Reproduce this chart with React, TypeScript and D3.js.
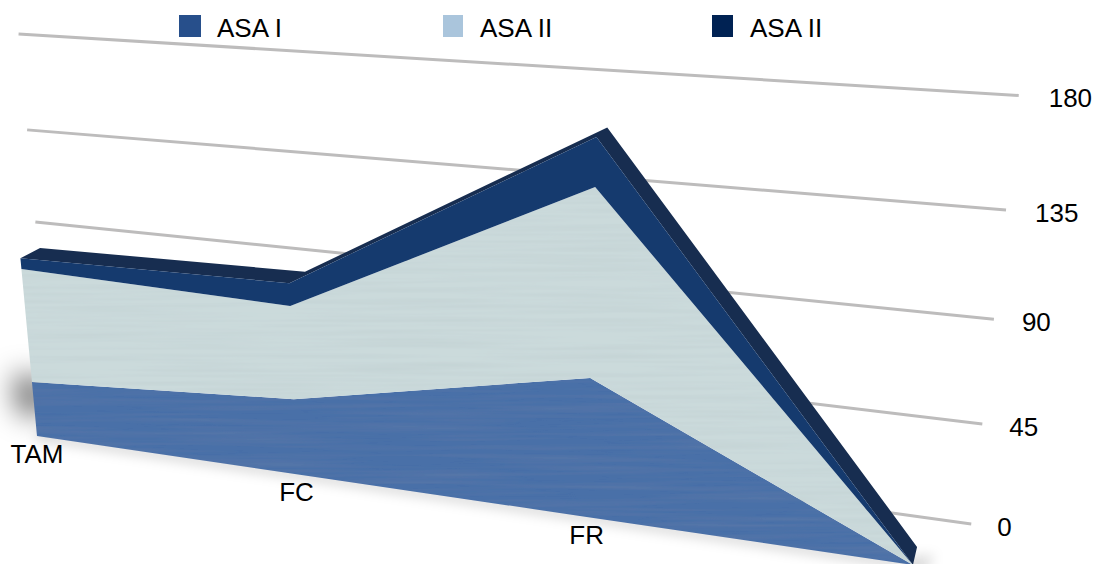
import * as d3 from 'd3';

const categories = ['TAM', 'FC', 'FR', ''];
const asaI = [27.7, 36.6, 63.7, 0];
const asaII = [55.9, 43.8, 81.6, 0];
const asaIII = [5.2, 10.5, 20.4, 0];
const valueTicks = [0, 45, 90, 135, 180];
const legendLabels = ['ASA I', 'ASA II', 'ASA II'];
const legendColors = ['#274f8b', '#aac5dc', '#002253'];
const faceColors = ['#4a6fa8', '#cbdadb', '#153a6e'];
const sideColor = '#172d50';

const font = '"Liberation Sans", Arial, sans-serif';

// camera: unit chart box (u along categories, v up, d into the page) -> screen pixels
function project(u: number, v: number, d = 0): [number, number] {
  const w = 1 - 0.158 * u - 0.075 * v + 0.0176 * d;
  return [
    (731.7 * u - 35.15 * v + 19.6 * d + 37) / w,
    (39.7 * u - 379.6 * v - 5.6 * d + 436) / w,
  ];
}

const uScale = d3.scalePoint<string>().domain(categories).range([0, 1]);
const vScale = d3.scaleLinear().domain([0, 180]).range([0, 1]);
// the back wall sits deeper, its ticks get their own range
const wallScale = d3.scaleLinear().domain([0, 180]).range([-0.034, 1]);
const wallDepth = 3.5;
const wallU: [number, number] = [-0.071, 1.047];

const rows = categories.map((c, i) => ({ c, a: asaI[i], b: asaII[i], e: asaIII[i] }));
const stacked = d3.stack<any>().keys(['a', 'b', 'e'])(rows);

const uOf = (d: any) => uScale(d.data.c) as number;

const faceArea = d3
  .area<any>()
  .x0((d) => project(uOf(d), vScale(d[0]))[0])
  .y0((d) => project(uOf(d), vScale(d[0]))[1])
  .x1((d) => project(uOf(d), vScale(d[1]))[0])
  .y1((d) => project(uOf(d), vScale(d[1]))[1]);

const sideArea = d3
  .area<any>()
  .x0((d) => project(uOf(d), vScale(d[1]), 0)[0])
  .y0((d) => project(uOf(d), vScale(d[1]), 0)[1])
  .x1((d) => project(uOf(d), vScale(d[1]), 1)[0])
  .y1((d) => project(uOf(d), vScale(d[1]), 1)[1]);

const line = d3.line();

export default function App() {
  const topSeries = stacked[stacked.length - 1];
  const baseLeft = project(0, 0);
  const baseRight = project(1, 0);

  return (
    <svg width={1100} height={564} style={{ position: 'absolute', left: 0, top: 0 }} fontFamily={font}>
      <defs>
        <filter id="blurBig" filterUnits="userSpaceOnUse" x={-80} y={280} width={220} height={240}>
          <feGaussianBlur stdDeviation="14" />
        </filter>
        <filter id="blurSmall" filterUnits="userSpaceOnUse" x={-50} y={380} width={1150} height={240}>
          <feGaussianBlur stdDeviation="6" />
        </filter>
        <filter id="brushed" x="0" y="0" width="100%" height="100%">
          <feTurbulence type="fractalNoise" baseFrequency="0.006 0.22" numOctaves="2" seed="4" result="n" />
          <feColorMatrix
            in="n"
            type="matrix"
            values="0 0 0 0 0.3  0 0 0 0 0.35  0 0 0 0 0.4  0.22 0 0 0 -0.08"
            result="tint"
          />
          <feComposite in="tint" in2="SourceAlpha" operator="in" result="streaks" />
          <feMerge>
            <feMergeNode in="SourceGraphic" />
            <feMergeNode in="streaks" />
          </feMerge>
        </filter>
      </defs>

      {/* back wall grid */}
      <g>
        {valueTicks.map((t) => {
          const a = project(wallU[0], wallScale(t), wallDepth);
          const b = project(wallU[1], wallScale(t), wallDepth);
          return (
            <g key={t}>
              <line x1={a[0]} y1={a[1]} x2={b[0]} y2={b[1]} stroke="#bdbcbc" strokeWidth={3} />
              <text x={b[0] + 26 + (t / 180) * 4} y={b[1] + 12} fontSize={26} fill="#000">
                {t}
              </text>
            </g>
          );
        })}
      </g>

      {/* soft shadows on the floor */}
      <path
        d={line([baseLeft, baseRight]) as string}
        stroke="#000"
        strokeOpacity={0.16}
        strokeWidth={9}
        fill="none"
        filter="url(#blurSmall)"
      />
      <path
        d={line([project(-0.025, 0.06), project(-0.025, 0.17), project(0.02, 0.17), project(0.02, 0.06)]) + 'Z'}
        fill="#000"
        fillOpacity={0.55}
        filter="url(#blurBig)"
      />
      <path
        d={line([[913, 555], [935, 555], [925, 575], [905, 575]]) + 'Z'}
        fill="#000"
        fillOpacity={0.12}
        filter="url(#blurSmall)"
      />

      {/* top side of the stack */}
      <path d={sideArea(topSeries) as string} fill={sideColor} />

      {/* front faces, the dark band stays nearly flat in the original */}
      <g filter="url(#brushed)">
        {stacked.slice(0, 2).map((s, i) => (
          <path key={s.key} d={faceArea(s) as string} fill={faceColors[i]} />
        ))}
      </g>
      <path d={faceArea(topSeries) as string} fill={faceColors[2]} />

      {/* category labels */}
      {categories.map((c) => {
        const p = project(uScale(c) as number, 0);
        return (
          <text key={c} x={p[0]} y={p[1] + 27} fontSize={26} textAnchor="middle" fill="#000">
            {c}
          </text>
        );
      })}

      {/* legend */}
      {legendLabels.map((label, i) => {
        const x = [179, 443, 712][i];
        const w = [22, 20, 21][i];
        const tx = [217, 480, 750][i];
        return (
          <g key={i}>
            <rect x={x} y={15} width={w} height={22} fill={legendColors[i]} />
            <text x={tx} y={37} fontSize={26} fill="#000">
              {label}
            </text>
          </g>
        );
      })}
    </svg>
  );
}
